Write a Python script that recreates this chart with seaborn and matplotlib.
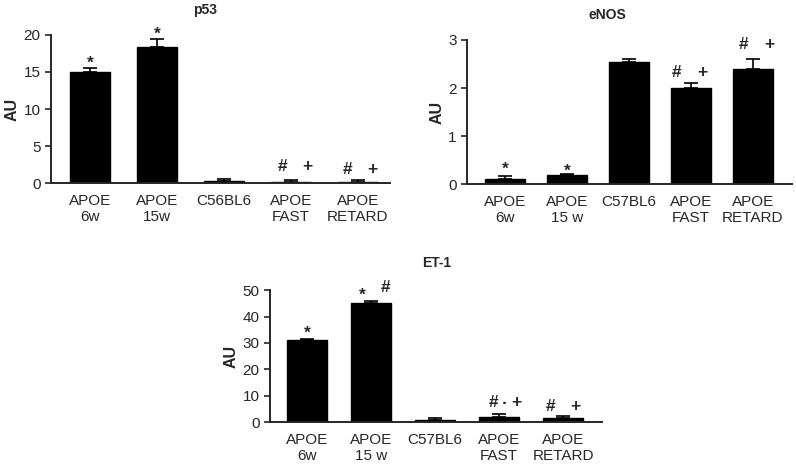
import numpy as np
import pandas as pd
import matplotlib
matplotlib.use("Agg")
import matplotlib.pyplot as plt
import seaborn as sns

# group labels (tick text per panel)
p53_groups = ["APOE\n6w", "APOE\n15w", "C56BL6", "APOE\nFAST", "APOE\nRETARD"]
enos_groups = ["APOE\n6w", "APOE\n15 w", "C57BL6", "APOE\nFAST", "APOE\nRETARD"]
et1_groups = ["APOE\n6w", "APOE\n15 w", "C57BL6", "APOE\nFAST", "APOE\nRETARD"]

# means and (upper) error values
p53_mean = [15.0, 18.4, 0.3, 0.15, 0.15]
p53_err = [0.6, 1.0, 0.3, 0.3, 0.35]
enos_mean = [0.10, 0.18, 2.55, 2.0, 2.4]
enos_err = [0.07, 0.04, 0.06, 0.1, 0.2]
et1_mean = [31.0, 45.0, 1.0, 2.0, 1.6]
et1_err = [0.6, 1.0, 0.5, 1.0, 0.6]

# significance marks: (group index, x offset, y centre, text)
p53_marks = [(0, 0, 16.2, "*"), (1, 0, 20.1, "*"),
             (3, -0.12, 2.2, "#"), (3, 0.24, 2.2, "+"),
             (4, -0.16, 1.8, "#"), (4, 0.21, 1.8, "+")]
enos_marks = [(0, 0, 0.3, "*"), (1, 0, 0.27, "*"),
              (3, -0.24, 2.33, "#"), (3, 0.19, 2.33, "+"),
              (4, -0.15, 2.9, "#"), (4, 0.26, 2.9, "+")]
et1_marks = [(0, 0, 33.5, "*"), (1, -0.13, 48.0, "*"), (1, 0.22, 51.0, "#"),
             (3, -0.09, 7.5, "#"), (3, 0.09, 7.0, "·"), (3, 0.27, 7.5, "+"),
             (4, -0.2, 6.0, "#"), (4, 0.19, 6.0, "+")]

sns.set_style("white")
plt.rcParams['font.family'] = ['Liberation Sans', 'DejaVu Sans']

fig = plt.figure(figsize=(7.96, 4.65), dpi=100)


def panel(rect, groups, mean, err, marks, title, title_xy, ylim, ticks, xlim, width):
    ax = fig.add_axes(rect)
    df = pd.DataFrame({"group": groups, "value": mean})
    sns.barplot(data=df, x="group", y="value", color="black", width=width,
                errorbar=None, ax=ax, saturation=1, edgecolor="black")
    x = np.arange(len(groups))
    ax.errorbar(x, mean, yerr=[np.zeros(len(err)), err], fmt="none",
                ecolor="black", elinewidth=1.2, capsize=5, capthick=1.2)
    for i, dx, y, t in marks:
        ax.text(i + dx, y, t, ha="center", va="center", fontsize=12.5,
                fontweight="bold", clip_on=False)
    ax.set_ylim(*ylim)
    ax.set_xlim(*xlim)
    ax.set_yticks(ticks)
    ax.set_xlabel("")
    ax.set_ylabel("AU", fontsize=11.5, fontweight="bold", labelpad=3)
    fig.text(title_xy[0], title_xy[1], title, ha="center", va="center",
             fontsize=10, fontweight="bold")
    sns.despine(ax=ax)
    ax.spines["left"].set_linewidth(1.4)
    ax.spines["bottom"].set_linewidth(1.4)
    ax.tick_params(axis="y", direction="out", length=4, width=1.2,
                   labelsize=11, left=True)
    ax.tick_params(axis="x", length=0, labelsize=11, pad=8)
    for lab in ax.get_xticklabels():
        lab.set_linespacing(1.15)
    ax.patch.set_alpha(0)
    return ax


panel([0.064, 0.606, 0.426, 0.319], p53_groups, p53_mean, p53_err, p53_marks,
      "p53", (205 / 796, 1 - 10 / 465), (0, 20), [0, 5, 10, 15, 20],
      (-0.58, 4.48), 0.6)
panel([0.587, 0.604, 0.408, 0.310], enos_groups, enos_mean, enos_err,
      enos_marks, "eNOS", (607 / 796, 1 - 15 / 465), (0, 3), [0, 1, 2, 3],
      (-0.61, 4.63), 0.65)
panel([0.339, 0.092, 0.417, 0.284], et1_groups, et1_mean, et1_err, et1_marks,
      "ET-1", (437 / 796, 1 - 263 / 465), (0, 50), [0, 10, 20, 30, 40, 50],
      (-0.58, 4.6), 0.62)

fig.savefig("out.png", dpi=100)
